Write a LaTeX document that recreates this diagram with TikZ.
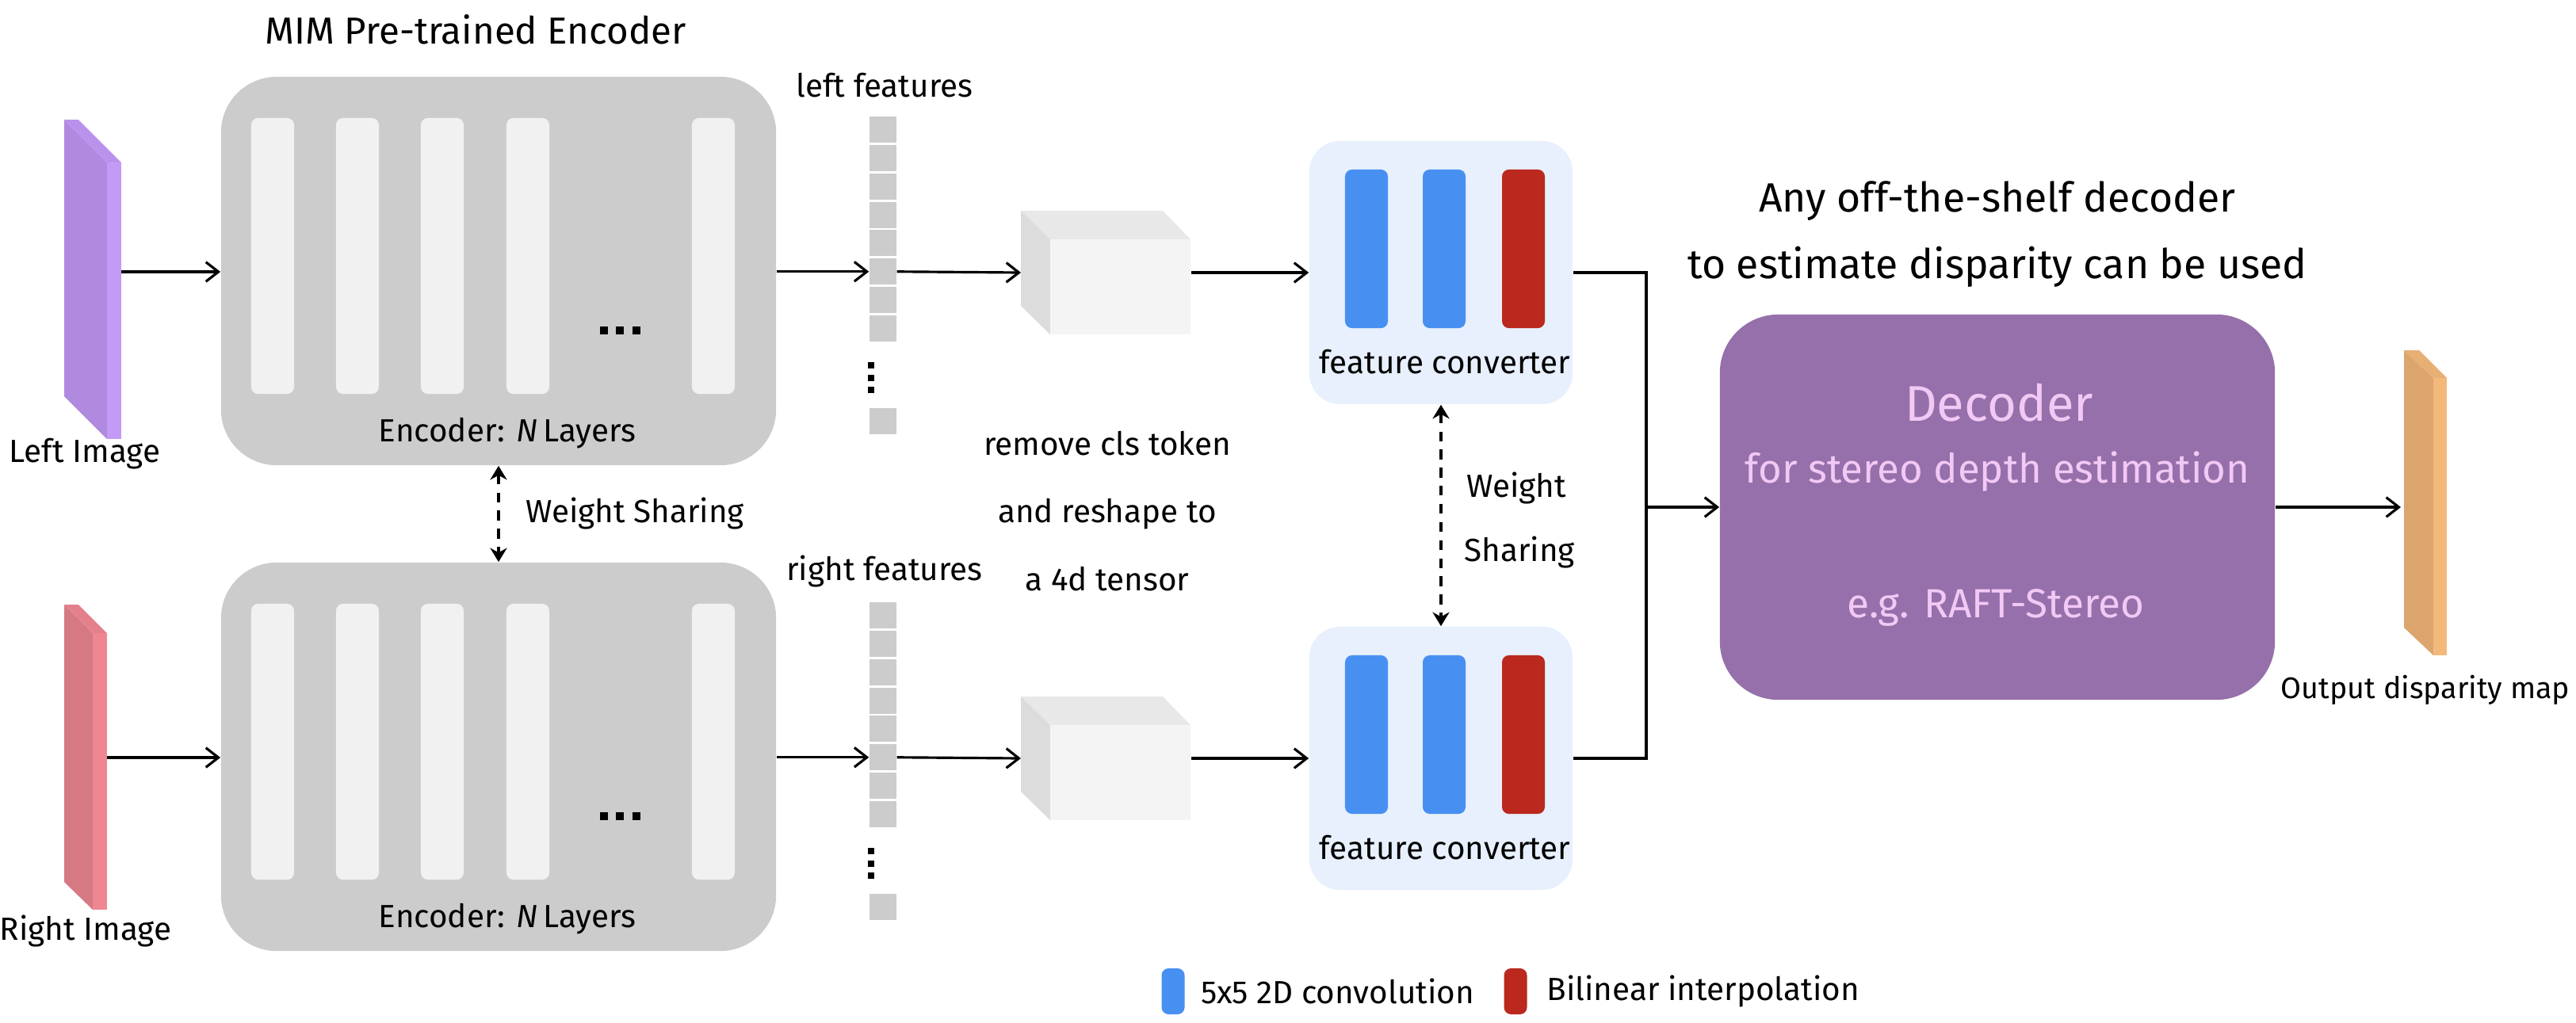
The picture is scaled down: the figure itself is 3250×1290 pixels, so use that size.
\documentclass[tikz,border=0pt]{standalone}
\usepackage{fontspec}
\setmainfont{Fira Sans}
\usetikzlibrary{arrows.meta,calc,positioning}
\definecolor{encgray}{RGB}{204,204,204}
\definecolor{layerfill}{RGB}{241,241,241}
\definecolor{convbg}{RGB}{231,240,252}
\definecolor{convblue}{RGB}{71,144,242}
\definecolor{interpred}{RGB}{186,40,30}
\definecolor{decpurple}{RGB}{150,112,170}
\definecolor{decpink}{RGB}{242,200,245}
\definecolor{cubefront}{RGB}{244,244,244}
\definecolor{cubetop}{RGB}{232,232,232}
\definecolor{cubeside}{RGB}{220,220,220}
\definecolor{limgdark}{RGB}{176,138,223}
\definecolor{limglight}{RGB}{196,154,247}
\definecolor{limgtop}{RGB}{186,146,236}
\definecolor{rimgdark}{RGB}{213,121,131}
\definecolor{rimglight}{RGB}{238,135,146}
\definecolor{rimgtop}{RGB}{228,128,139}
\definecolor{outdark}{RGB}{220,165,110}
\definecolor{outlight}{RGB}{242,185,123}
\definecolor{outtop}{RGB}{232,175,116}
\tikzset{
  % Bloklar
  encbox/.style   = {fill=encgray, rounded corners=20pt, minimum width=7cm, minimum height=4.9cm, inner sep=0pt},
  layerbar/.style = {fill=layerfill, rounded corners=2.5pt, minimum width=0.54cm, minimum height=3.48cm, inner sep=0pt},
  featcell/.style = {fill=encgray, minimum width=0.34cm, minimum height=0.33cm, inner sep=0pt},
  cubeface/.style = {fill=cubefront, minimum width=1.77cm, minimum height=1.2cm, inner sep=0pt},
  convbox/.style  = {fill=convbg, rounded corners=11pt, minimum width=3.32cm, minimum height=3.32cm, inner sep=0pt},
  convbar/.style  = {fill=convblue, rounded corners=2.5pt, minimum width=0.54cm, minimum height=2cm, inner sep=0pt},
  interpbar/.style= {convbar, fill=interpred},
  decbox/.style   = {fill=decpurple, rounded corners=21pt, minimum width=7cm, minimum height=4.86cm, inner sep=0pt},
  % O'q chiziqlari
  arr/.style      = {-{Straight Barb[length=4.5pt,width=7pt]}, line width=0.9pt},
  conline/.style  = {line width=0.9pt},
  sharearr/.style = {{Stealth[length=5pt,width=6pt]}-{Stealth[length=5pt,width=6pt]}, line width=1.1pt, dash pattern=on 3.5pt off 3pt},
  % Etiketlar
  lab/.style      = {font=\fontsize{11.5}{14}\selectfont, inner sep=1pt},
  titlelab/.style = {font=\fontsize{13.5}{16}\selectfont, inner sep=1pt},
  declab/.style   = {text=decpink, inner sep=1pt},
}
\begin{document}
\begin{tikzpicture}[x=0.01cm, y=-0.01cm]
  \useasboundingbox (0,0) rectangle (3250,1290);
  % Kirish tasvirlari
  \fill[limgdark] (81,151) -- (135,205) -- (135,554) -- (81,500) -- cycle;
  \fill[limgtop] (81,151) -- (99,151) -- (153,205) -- (135,205) -- cycle;
  \fill[limglight] (135,205) rectangle (153,554);
  \coordinate (limgout) at (153,343);
  \fill[rimgdark] (81,763) -- (117,799) -- (117,1148) -- (81,1113) -- cycle;
  \fill[rimgtop] (81,763) -- (99,763) -- (135,799) -- (117,799) -- cycle;
  \fill[rimglight] (117,799) rectangle (135,1148);
  \coordinate (rimgout) at (135,956);
  \node[lab] (limglab) at (107,573) {Left Image};
  \node[lab] (rimglab) at (108,1175) {Right Image};
  % Kodlovchi
  \node[titlelab] (enctitle) at (600,37) {MIM Pre-trained Encoder};
  \node[encbox] (encL) at (629,342) {};
  \node[encbox] (encR) at (629,955) {};
  \foreach \dy/\s in {0/L,613/R} {
    \foreach \x [count=\i] in {344,451,558,666,900}
      \node[layerbar] (lay\s\i) at (\x,323+\dy) {};
    \foreach \x in {757,777,798}
      \fill (\x,412+\dy) rectangle ++(10,10);
    \node[lab] (enclab\s) at (640,547+\dy) {Encoder: \textit{N}\,Layers};
  }
  % Xususiyatlar
  \node[lab] (lflab) at (1116,108) {left features};
  \node[lab] (rflab) at (1116,721) {right features};
  \foreach \dy/\s in {0/l,613/r} {
    \foreach \k in {1,...,8}
      \node[featcell] (\s f\k) at (1114,127.95+35.8*\k+\dy) {};
    \foreach \y in {457,473,488}
      \fill (1095,\y+\dy) rectangle ++(8,8);
    \node[featcell] (\s fN) at (1114,531+\dy) {};
    % 4d tensor kubi
    \fill[cubetop] (1288,266+\dy) -- (1467,266+\dy) -- (1502,302+\dy) -- (1325,302+\dy) -- cycle;
    \fill[cubeside] (1288,266+\dy) -- (1325,302+\dy) -- (1325,422+\dy) -- (1288,386+\dy) -- cycle;
    \node[cubeface] (cube\s) at (1413.5,362+\dy) {};
    \coordinate (cube\s in) at (1288,344+\dy);
  }
  \node[lab, align=center, font=\fontsize{11.5}{24.2}\selectfont] (reshapelab) at (1397,645)
    {remove cls token\\and reshape to\\a 4d tensor};
  % Xususiyat o'zgartirgich
  \node[convbox] (convL) at (1818,344) {};
  \node[convbox] (convR) at (1818,957) {};
  \foreach \dy/\s in {0/L,613/R} {
    \node[convbar] (cb\s1) at (1724,314+\dy) {};
    \node[convbar] (cb\s2) at (1822,314+\dy) {};
    \node[interpbar] (cb\s3) at (1922,314+\dy) {};
    \node[lab] (convlab\s) at (1823,457+\dy) {feature converter};
  }
  % Dekoder
  \node[font=\fontsize{14.7}{23.9}\selectfont, align=center] (anylab) at (2520,296)
    {Any off-the-shelf decoder\\to estimate disparity can be used};
  \node[decbox] (dec) at (2520,640) {};
  \node[declab, font=\fontsize{18}{20}\selectfont] (declab1) at (2522,508) {Decoder};
  \node[declab, font=\fontsize{14.5}{16}\selectfont] (declab2) at (2520,595) {for stereo depth estimation};
  \node[declab, font=\fontsize{14.6}{16}\selectfont] (declab3) at (2518,767) {e.g. RAFT-Stereo};
  % Chiqish
  \fill[outdark] (3033,442) -- (3070,477) -- (3070,827) -- (3033,792) -- cycle;
  \fill[outtop] (3033,442) -- (3052,442) -- (3087,477) -- (3070,477) -- cycle;
  \fill[outlight] (3070,477) rectangle (3087,827);
  \coordinate (outin) at (3029,640);
  \node[lab, font=\fontsize{10.7}{13}\selectfont] (outlab) at (3060,871) {Output disparity map};
  % O'qlar
  \draw[arr] (limgout) -- (encL.west |- limgout);
  \draw[arr] (rimgout) -- (encR.west |- rimgout);
  \draw[arr] (encL.east |- lf6) -- (lf6.west);
  \draw[arr] (encR.east |- rf6) -- (rf6.west);
  \draw[arr] (lf6.east) -- (cubelin);
  \draw[arr] (rf6.east) -- (cuberin);
  \draw[arr] (cubel.east |- convL) -- (convL.west);
  \draw[arr] (cuber.east |- convR) -- (convR.west);
  \coordinate (merge) at (2077,640);
  \draw[conline] (convL.east) -| (merge);
  \draw[conline] (convR.east) -| (merge);
  \draw[arr] (merge) -- (dec.west);
  \draw[arr] (dec.east) -- (outin);
  \draw[sharearr] (encL.south) -- (encR.north);
  \draw[sharearr] (convL.south) -- (convR.north);
  \node[lab] (wslab1) at (801,648) {Weight Sharing};
  \node[lab] (wslab2) at (1913,616) {Weight};
  \node[lab] (wslab3) at (1917,697) {Sharing};
  % Izoh
  \node[convbar, minimum width=0.29cm, minimum height=0.58cm] (legconv) at (1480,1251) {};
  \node[lab, right=0.16cm of legconv] (legconvlab) {5x5 2D convolution};
  \node[interpbar, minimum width=0.29cm, minimum height=0.58cm] (leginterp) at (1912,1251) {};
  \node[lab, right=0.2cm of leginterp] (leginterplab) {Bilinear interpolation};
\end{tikzpicture}
\end{document}
